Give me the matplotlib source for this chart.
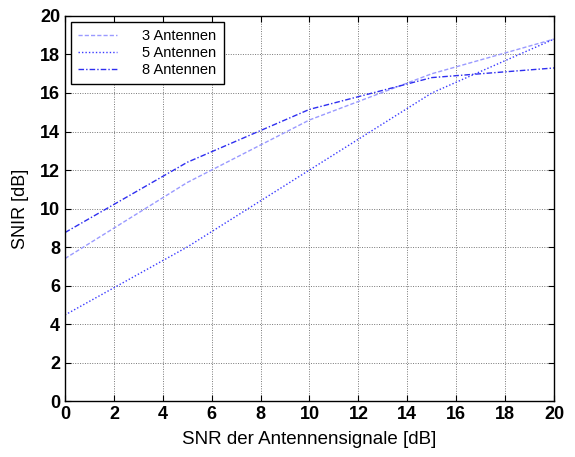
import matplotlib
matplotlib.use('Agg')
import matplotlib.pyplot as plt

# SNR der Antennensignale [dB]
snr = [0, 5, 10, 15, 20]

# SNIR [dB] per number of antennas
snir_3 = [7.4, 11.35, 14.6, 17.0, 18.8]
snir_5 = [4.47, 8.0, 12.0, 16.0, 18.8]
snir_8 = [8.75, 12.4, 15.15, 16.8, 17.3]

labels = ['3 Antennen', '5 Antennen', '8 Antennen']
x_ticks = list(range(0, 21, 2))
y_ticks = list(range(0, 21, 2))

plt.rcParams['font.family'] = ['Liberation Sans', 'DejaVu Sans']

fig = plt.figure(figsize=(5.75, 4.57), dpi=100)
ax = fig.add_axes([0.113, 0.1225, 0.8505, 0.8425])

ax.plot(snr, snir_3, color='#9a9aff', linestyle=(0, (3, 1.5)), linewidth=1.0, label=labels[0])
ax.plot(snr, snir_5, color='#3a3aff', linestyle=(0, (1, 1.5)), linewidth=1.0, label=labels[1])
ax.plot(snr, snir_8, color='#2e2ef0', linestyle=(0, (4, 1.5, 1, 1.5)), linewidth=1.0, label=labels[2])

ax.set_xlim(0, 20)
ax.set_ylim(0, 20)
ax.set_xticks(x_ticks)
ax.set_yticks(y_ticks)
ax.tick_params(direction='in', top=True, right=True, length=4, labelsize=13, width=0.8)
for lab in ax.get_xticklabels() + ax.get_yticklabels():
    lab.set_fontweight('bold')
ax.grid(True, color='#777777', linestyle=(0, (1, 1.5)), linewidth=0.7)
for s in ax.spines.values():
    s.set_linewidth(1.0)

ax.set_xlabel('SNR der Antennensignale [dB]', fontsize=13.5, labelpad=6)
ax.set_ylabel('SNIR [dB]', fontsize=13, labelpad=8)

leg = ax.legend(loc='upper left', fontsize=10.5, frameon=True, fancybox=False,
                edgecolor='black', framealpha=1, handlelength=2.7,
                borderaxespad=0.4, borderpad=0.5, labelspacing=0.2,
                handletextpad=1.7)
leg.get_frame().set_linewidth(1.0)

fig.savefig('out.png', dpi=100)
